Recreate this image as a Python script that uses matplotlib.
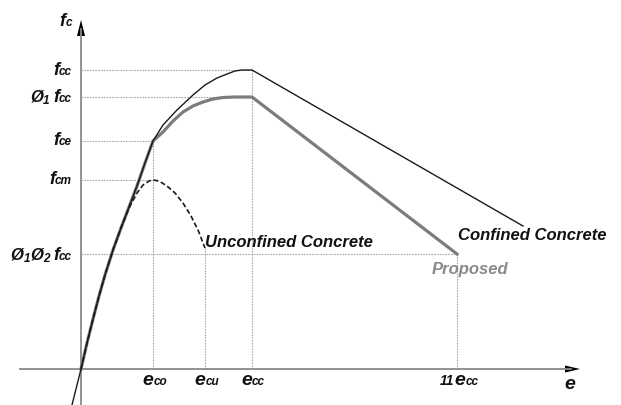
import matplotlib
matplotlib.use('Agg')
import matplotlib.pyplot as plt

# strain positions on the horizontal axis (schematic units)
eps_co, eps_cu, eps_cc, eps_11cc = 72, 124, 171, 376
# stress levels on the vertical axis (schematic units)
f_cc, f_phi1, f_ce, f_cm, f_res = 299, 272, 228, 189, 115

# confined concrete curve (thin black)
conf_x = [-9, 0, 6, 12, 18, 24, 32, 40, 48, 56, 64, 72, 82, 96, 112, 124, 136, 146, 154, 161, 171, 442]
conf_y = [-36, 0, 26, 50, 73, 94, 119, 141, 162, 183, 206, 228, 244, 259, 274, 284, 291, 295, 298, 299, 299, 143]

# proposed curve (thick grey)
prop_x = [0, 6, 12, 18, 24, 32, 40, 48, 56, 64, 72, 82, 92, 102, 112, 122, 132, 142, 154, 171, 376]
prop_y = [0, 26, 50, 73, 94, 119, 141, 162, 183, 206, 228, 237, 248, 257, 263, 267, 270, 271.5, 272, 272, 115]

# unconfined concrete curve (dashed)
unconf_x = [0, 6, 12, 18, 24, 32, 40, 48, 56, 62, 68, 72, 78, 86, 94, 102, 110, 117, 124]
unconf_y = [0, 26, 50, 73, 94, 119, 141, 161, 176, 184, 188, 189, 188, 183, 176, 166, 153, 139, 121]

FONT = 'Liberation Sans'
DOT = dict(color='#a8a8a8', lw=0.8, ls=(0, (1.5, 1)))

fig = plt.figure(figsize=(6.21, 4.05), dpi=100)
ax = fig.add_axes([0, 0, 1, 1])
ax.set_xlim(-81, 540)
ax.set_ylim(-36, 369)
ax.axis('off')
renderer = fig.canvas.get_renderer()


def rich_label(x, y, parts, ha='left', color='#111111'):
    # parts: (text, fontsize, baseline shift) drawn side by side
    items = []
    for s, size, dy in parts:
        t = ax.text(0, 0, s, fontsize=size, family=FONT, style='italic',
                    weight='bold', color=color, va='baseline', ha='left')
        w = t.get_window_extent(renderer).width
        items.append((t, w, dy))
    total = sum(w for _, w, _ in items)
    if ha == 'right':
        x0 = x - total
    elif ha == 'center':
        x0 = x - total / 2
    else:
        x0 = x
    for t, w, dy in items:
        t.set_position((x0, y + dy))
        x0 += w


# guide lines
for lvl, xe in [(f_cc, eps_cc), (f_phi1, eps_cc), (f_ce, eps_co), (f_cm, eps_co), (f_res, eps_11cc)]:
    ax.plot([0, xe], [lvl, lvl], **DOT)
for xe, top in [(eps_co, f_ce), (eps_cu, unconf_y[-1]), (eps_cc, f_cc), (eps_11cc, f_res)]:
    ax.plot([xe, xe], [0, top], **DOT)

# axes with arrow heads
ax.plot([-61, 490], [0, 0], color='#8a8a8a', lw=1.3)
ax.plot([0, 0], [-36, 340], color='#8a8a8a', lw=1.3)
ax.fill([-4, 0, 4], [333, 349, 333], color='black', lw=0)
ax.fill([484, 499, 484], [-3.5, 0, 3.5], color='black', lw=0)

# curves
ax.plot(prop_x, prop_y, color='#7c7c7c', lw=2.3, solid_joinstyle='round')
ax.plot(conf_x, conf_y, color='#1a1a1a', lw=1.0)
ax.plot(unconf_x, unconf_y, color='#1a1a1a', lw=1.2, ls=(0, (3, 1.6)))

# vertical axis labels
S, s = 13, 8.5
rich_label(-9, 343, [('f', S, 0), ('c', s, 0)], ha='right')
rich_label(-9, f_cc - 5, [('f', S, 0), ('cc', s, 0)], ha='right')
rich_label(-9, f_phi1 - 5, [('Ø', S - 1, 0), ('1 ', s, -1.5), ('f', S, 0), ('cc', s, 0)], ha='right')
rich_label(-9, f_ce - 4, [('f', S, 0), ('ce', s, 0)], ha='right')
rich_label(-9, f_cm - 4, [('f', S, 0), ('cm', s, 0)], ha='right')
rich_label(-9, f_res - 6, [('Ø', S - 1, 0), ('1', s, -1.5), ('Ø', S - 1, 0), ('2 ', s, -1.5),
                           ('f', S, 0), ('cc', s, 0)], ha='right')

# horizontal axis labels
E = 14
rich_label(eps_co + 2, -16, [('e', E, 0), ('co', s, 0)], ha='center')
rich_label(eps_cu + 2, -16, [('e', E, 0), ('cu', s, 0)], ha='center')
rich_label(eps_cc + 1, -16, [('e', E, 0), ('cc', s, 0)], ha='center')
rich_label(eps_11cc + 2, -16, [('11', 10, 0), ('e', E, 0), ('cc', s, 0)], ha='center')
rich_label(489, -20, [('e', E, 0)], ha='center')

# curve names
rich_label(124, 122, [('Unconfined Concrete', 12, 0)])
rich_label(377, 129, [('Confined Concrete', 12, 0)])
rich_label(351, 95, [('Proposed', 12, 0)], color='#8a8a8a')

fig.savefig('out.png', dpi=100)
